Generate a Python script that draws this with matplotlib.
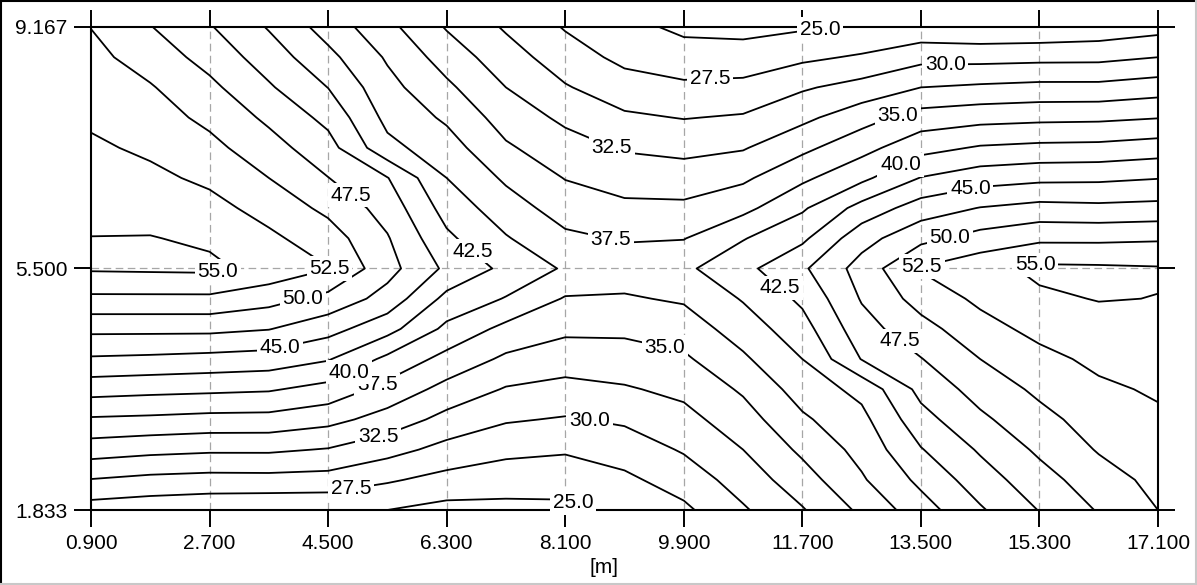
import numpy as np
import matplotlib
matplotlib.use("Agg")
import matplotlib.pyplot as plt
from matplotlib.lines import Line2D

plt.rcParams['font.family'] = ['Liberation Sans', 'DejaVu Sans']
plt.rcParams['lines.scale_dashes'] = False

# grid coordinates [m]
x_m = [0.9, 1.8, 2.7, 3.6, 4.5, 5.4, 6.3, 7.2, 8.1, 9.0,
       9.9, 10.8, 11.7, 12.6, 13.5, 14.4, 15.3, 16.2, 17.1]
y_m = [1.833, 2.291, 2.750, 3.208, 3.666, 4.125, 4.583, 5.042, 5.500,
       5.958, 6.417, 6.875, 7.333, 7.792, 8.250, 8.708, 9.167]

# values along each column (bottom -> top)
col_0_9 = [26.3, 29.9, 33.7, 37.2, 41.0, 44.7, 48.1, 52.0, 55.3, 55.05, 54.3, 53.6, 52.9, 52.1, 51.4, 50.7, 49.95]
col_1_8 = [25.9, 29.35, 33.2, 37.0, 40.7, 44.5, 48.1, 52.0, 55.4, 55.1, 54.1, 53.05, 52.06, 51.1, 50.2, 48.9, 47.6]
col_2_7 = [25.6, 29.1, 32.9, 36.7, 40.5, 44.2, 48.1, 52.0, 55.5, 54.6, 53.3, 52.0, 50.7, 49.4, 48.1, 46.6, 45.2]
col_3_6 = [25.4, 29.15, 32.9, 36.65, 40.25, 43.9, 47.6, 50.95, 54.2, 53.0, 51.6, 50.0, 48.5, 47.0, 45.3, 43.8, 42.3]
col_4_5 = [25.4, 29.0, 32.35, 35.8, 39.15, 42.7, 45.9, 49.25, 52.6, 51.2, 49.4, 47.55, 45.95, 44.3, 42.46, 40.7, 38.95]
col_5_4 = [25.0, 27.8, 30.9, 34.0, 36.65, 39.4, 43.4, 46.55, 48.4, 47.7, 46.5, 45.1, 40.7, 39.3, 38.3, 37.2, 35.7]
col_6_3 = [24.2, 26.7, 29.2, 31.7, 34.2, 36.7, 39.4, 41.8, 44.5, 43.0, 41.5, 40.0, 38.6, 37.1, 35.5, 33.9, 32.3]
col_7_2 = [24.4, 26.0, 28.2, 30.25, 32.3, 34.55, 36.8, 39.85, 41.9, 40.2, 38.65, 37.1, 35.35, 33.9, 32.5, 31.1, 29.7]
col_8_1 = [24.5, 25.95, 27.8, 29.8, 31.7, 33.7, 35.5, 37.3, 39.7, 38.0, 36.4, 34.9, 33.5, 32.0, 30.2, 28.7, 27.3]
col_9_0 = [25.6, 27.0, 28.6, 30.4, 32.25, 33.9, 35.5, 37.25, 38.7, 37.3, 35.55, 33.9, 32.25, 30.4, 28.6, 26.85, 25.7]
col_9_9 = [27.0, 28.6, 30.25, 31.7, 33.1, 34.6, 36.2, 37.8, 39.5, 37.4, 35.5, 33.7, 31.8, 29.9, 28.0, 26.0, 24.5]
col_10_8 = [29.7, 31.1, 32.5, 33.9, 35.35, 37.1, 38.65, 40.2, 41.8, 39.85, 36.8, 34.55, 32.3, 30.25, 28.2, 26.0, 24.3]
col_11_7 = [32.3, 33.9, 35.5, 37.1, 38.6, 40.0, 41.5, 43.0, 44.6, 42.0, 39.65, 37.0, 34.4, 31.9, 29.7, 27.0, 24.7]
col_12_6 = [35.5, 37.2, 38.3, 39.3, 40.7, 45.1, 46.5, 47.7, 48.5, 46.55, 43.4, 39.4, 36.65, 34.0, 30.9, 27.8, 25.2]
col_13_5 = [38.9, 40.6, 42.35, 44.1, 45.75, 47.4, 49.1, 51.0, 52.7, 49.3, 46.2, 42.6, 39.15, 36.1, 32.5, 29.2, 25.7]
col_14_4 = [42.2, 43.8, 45.3, 47.0, 48.5, 50.0, 51.6, 53.0, 54.2, 50.95, 47.6, 43.9, 40.25, 36.65, 32.9, 29.15, 25.4]
col_15_3 = [45.1, 46.5, 47.95, 49.25, 50.5, 51.8, 53.2, 54.6, 55.5, 52.0, 48.3, 44.4, 40.6, 36.9, 33.2, 29.3, 25.5]
col_16_2 = [47.7, 48.9, 50.2, 51.1, 52.06, 53.05, 54.1, 55.1, 55.4, 52.0, 48.1, 44.5, 40.7, 37.0, 33.2, 29.35, 25.9]
col_17_1 = [50.0, 50.7, 51.4, 52.1, 52.8, 53.5, 54.2, 54.96, 55.2, 52.2, 48.3, 44.9, 41.2, 37.4, 33.8, 30.0, 26.6]

levels = [25.0, 27.5, 30.0, 32.5, 35.0, 37.5, 40.0, 42.5, 45.0, 47.5, 50.0, 52.5, 55.0]

x_ticks = [0.9, 2.7, 4.5, 6.3, 8.1, 9.9, 11.7, 13.5, 15.3, 17.1]
x_tick_labels = ['0.900', '2.700', '4.500', '6.300', '8.100', '9.900',
                 '11.700', '13.500', '15.300', '17.100']
y_ticks = [1.833, 5.500, 9.167]
y_tick_labels = ['1.833', '5.500', '9.167']
x_label = '[m]'

# approximate label anchor positions (data coords)
label_pos = [
    (11.97, 9.10), (10.30, 8.36), (13.87, 8.62), (8.78, 7.28), (13.15, 7.83),
    (8.78, 5.89), (13.18, 7.10), (14.25, 6.72), (13.94, 5.98), (13.52, 5.50),
    (15.23, 5.60), (11.35, 5.20), (13.18, 4.40), (9.62, 4.34), (8.48, 3.26),
    (8.25, 2.03), (4.86, 2.11), (5.26, 2.96), (5.26, 3.70), (4.83, 3.91),
    (3.77, 4.29), (4.12, 5.02), (4.53, 5.50), (2.83, 5.43), (4.86, 6.63),
    (6.73, 5.81),
]

Z = np.column_stack([col_0_9, col_1_8, col_2_7, col_3_6, col_4_5, col_5_4,
                     col_6_3, col_7_2, col_8_1, col_9_0, col_9_9, col_10_8,
                     col_11_7, col_12_6, col_13_5, col_14_4, col_15_3,
                     col_16_2, col_17_1])

W, H = 1197, 585
fig = plt.figure(figsize=(W / 100, H / 100), dpi=100)
ax = fig.add_axes([91 / W, 75 / H, 1067 / W, 483 / H])

ax.set_xlim(0.9, 17.1)
ax.set_ylim(1.833, 9.167)

for v in x_ticks[1:-1]:
    ax.axvline(v, color='#a6a6a6', lw=0.9, ls=(0, (5.5, 3.2)), zorder=1)
ax.axhline(5.5, color='#a6a6a6', lw=0.9, ls=(0, (5.5, 3.2)), zorder=1)

cs = ax.contour(x_m, y_m, Z, levels=levels, colors='black', linewidths=1.3, zorder=2)
texts = ax.clabel(cs, fmt='%.1f', fontsize=15, inline=False, manual=label_pos)
for t in texts:
    t.set_rotation(0)
    t.set_clip_on(False)
    t.set_zorder(5)
    t.set_bbox(dict(facecolor='white', edgecolor='none', pad=2.0))

ax.set_xticks(x_ticks)
ax.set_xticklabels(x_tick_labels)
ax.set_yticks(y_ticks)
ax.set_yticklabels(y_tick_labels)
ax.tick_params(direction='out', length=12, width=1.4, top=True, right=True,
               labelsize=15, pad=5, colors='black')
for s in ax.spines.values():
    s.set_linewidth(1.5)
    s.set_color('black')

ax.set_xlabel(x_label, fontsize=15)
ax.xaxis.set_label_coords((604 - 91) / 1067, -0.100)

# outer frame
fig.add_artist(Line2D([0.6 / W, 0.6 / W], [0, 1], color='black', lw=1.5, transform=fig.transFigure))
fig.add_artist(Line2D([0, 1], [1 - 0.6 / H, 1 - 0.6 / H], color='black', lw=1.5, transform=fig.transFigure))
fig.add_artist(Line2D([1 - 0.6 / W, 1 - 0.6 / W], [0, 1], color='#c8c8c8', lw=1.5, transform=fig.transFigure))
fig.add_artist(Line2D([0, 1], [1.2 / H, 1.2 / H], color='#c8c8c8', lw=1.5, transform=fig.transFigure))

fig.savefig('out.png', dpi=100)
